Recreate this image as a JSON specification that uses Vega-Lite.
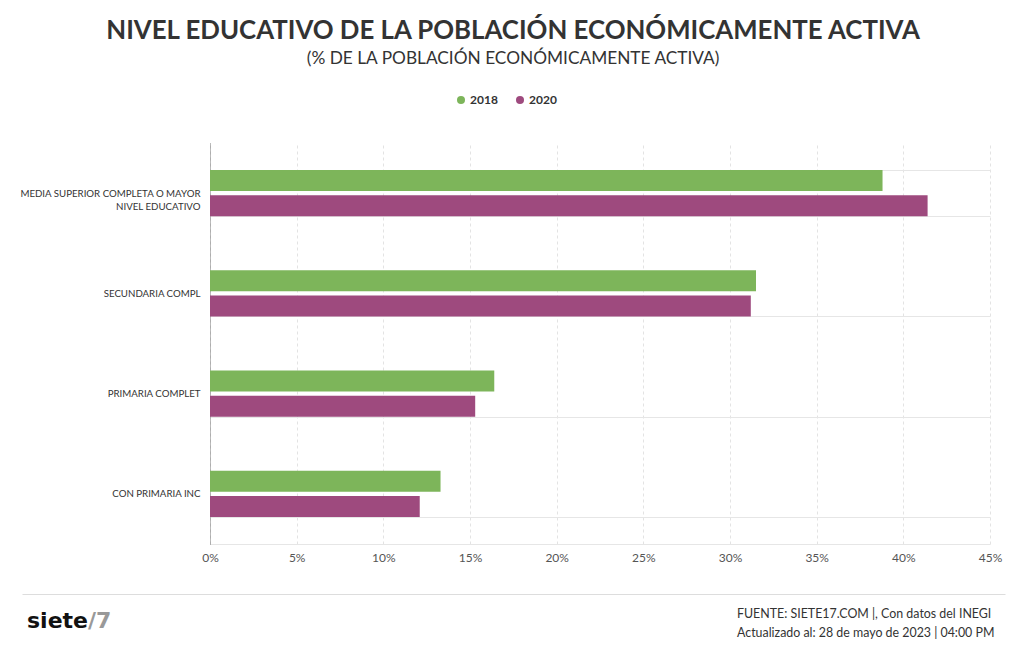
{
  "$schema": "https://vega.github.io/schema/vega-lite/v6.json",
  "padding": {"left": 19, "top": 17, "right": 10, "bottom": 0},
  "background": "white",
  "title": {
    "text": "NIVEL EDUCATIVO DE LA POBLACIÓN ECONÓMICAMENTE ACTIVA",
    "subtitle": "(% DE LA POBLACIÓN ECONÓMICAMENTE ACTIVA)",
    "anchor": "middle",
    "frame": "bounds",
    "dx": -93,
    "font": "Lato",
    "fontSize": 25.8,
    "fontWeight": "bold",
    "color": "#333333",
    "subtitleFont": "Lato",
    "subtitleFontSize": 17.3,
    "subtitleColor": "#333333",
    "subtitlePadding": 5,
    "offset": 26
  },
  "spacing": 31,
  "vconcat": [
    {
      "width": 780,
      "height": 401,
      "view": {"stroke": null},
      "data": {
        "values": [
          {"nivel": "MEDIA SUPERIOR COMPLETA O MAYOR NIVEL EDUCATIVO", "anio": "2018", "valor": 38.8},
          {"nivel": "MEDIA SUPERIOR COMPLETA O MAYOR NIVEL EDUCATIVO", "anio": "2020", "valor": 41.4},
          {"nivel": "SECUNDARIA COMPL", "anio": "2018", "valor": 31.5},
          {"nivel": "SECUNDARIA COMPL", "anio": "2020", "valor": 31.2},
          {"nivel": "PRIMARIA COMPLET", "anio": "2018", "valor": 16.4},
          {"nivel": "PRIMARIA COMPLET", "anio": "2020", "valor": 15.3},
          {"nivel": "CON PRIMARIA INC", "anio": "2018", "valor": 13.3},
          {"nivel": "CON PRIMARIA INC", "anio": "2020", "valor": 12.1}
        ]
      },
      "mark": {"type": "bar"},
      "encoding": {
        "y": {
          "field": "nivel",
          "type": "nominal",
          "sort": null,
          "scale": {"paddingInner": 0.54, "paddingOuter": 0.27},
          "axis": {
            "title": null,
            "tickBand": "extent",
            "ticks": false,
            "grid": true,
            "gridColor": "#e6e6e6",
            "gridWidth": 1,
            "domain": true,
            "domainColor": "#777777",
            "domainDash": [1, 1],
            "labelFont": "Lato",
            "labelFontSize": 9.7,
            "labelColor": "#333333",
            "labelPadding": 10,
            "labelLimit": 200,
            "labelLineHeight": 13,
            "minExtent": 189,
            "maxExtent": 189,
            "labelExpr": "datum.label == 'MEDIA SUPERIOR COMPLETA O MAYOR NIVEL EDUCATIVO' ? ['MEDIA SUPERIOR COMPLETA O MAYOR', 'NIVEL EDUCATIVO'] : datum.label"
          }
        },
        "yOffset": {
          "field": "anio",
          "type": "nominal",
          "scale": {"paddingInner": 0.16, "paddingOuter": 0}
        },
        "x": {
          "field": "valor",
          "type": "quantitative",
          "scale": {"domain": [0, 45], "nice": false},
          "axis": {
            "title": null,
            "values": [0, 5, 10, 15, 20, 25, 30, 35, 40, 45],
            "labelExpr": "datum.value + '%'",
            "labelFont": "Lato",
            "labelFontSize": 12,
            "labelColor": "#555555",
            "labelPadding": 8,
            "ticks": false,
            "domain": true,
            "domainColor": "#e6e6e6",
            "grid": true,
            "gridColor": "#e3e3e3",
            "gridDash": [3, 3],
            "labelFlush": false
          }
        },
        "color": {
          "field": "anio",
          "type": "nominal",
          "scale": {"domain": ["2018", "2020"], "range": ["#7db55a", "#9e4a7e"]},
          "legend": {
            "title": null,
            "orient": "none",
            "direction": "horizontal",
            "legendX": 245,
            "legendY": -49,
            "symbolType": "circle",
            "symbolSize": 64,
            "labelFont": "Lato",
            "labelFontSize": 12,
            "labelFontWeight": "bold",
            "labelColor": "#333333",
            "columnPadding": 16,
            "labelOffset": 3
          }
        }
      }
    },
    {
      "width": 795,
      "height": 57,
      "view": {"stroke": null},
      "layer": [
        {
          "data": {"values": [{"pos": "logo", "texto": "siete"}]},
          "mark": {"type": "text", "align": "left", "baseline": "middle", "font": "DejaVu Sans", "fontWeight": "bold", "fontSize": 22, "color": "#111111", "dx": 5, "dy": -2},
          "encoding": {
            "x": {"field": "pos", "type": "nominal", "scale": {"type": "point", "domain": ["logo", "fuente"], "padding": 0, "range": [-188, 795]}, "axis": {"orient": "top", "title": null, "labels": false, "ticks": false, "grid": false, "domain": true, "domainColor": "#dddddd"}},
            "text": {"field": "texto"}
          }
        },
        {
          "data": {"values": [{"pos": "logo", "texto": "/7"}]},
          "mark": {"type": "text", "align": "left", "baseline": "middle", "font": "DejaVu Sans", "fontWeight": "bold", "fontSize": 22, "color": "#999999", "dx": 66, "dy": -2},
          "encoding": {
            "x": {"field": "pos", "type": "nominal"},
            "text": {"field": "texto"}
          }
        },
        {
          "data": {"values": [
            {"pos": "fuente", "linea": 1, "texto": "FUENTE: SIETE17.COM |, Con datos del INEGI"},
            {"pos": "fuente", "linea": 2, "texto": "Actualizado al: 28 de mayo de 2023 | 04:00 PM"}
          ]},
          "mark": {"type": "text", "align": "left", "baseline": "middle", "font": "Lato", "fontSize": 12.4, "color": "#333333", "dx": -268, "dy": 1},
          "encoding": {
            "x": {"field": "pos", "type": "nominal"},
            "y": {"field": "linea", "type": "ordinal", "scale": {"type": "point", "padding": 1}, "axis": null},
            "text": {"field": "texto"}
          }
        }
      ]
    }
  ],
  "config": {"view": {"stroke": null}}
}
